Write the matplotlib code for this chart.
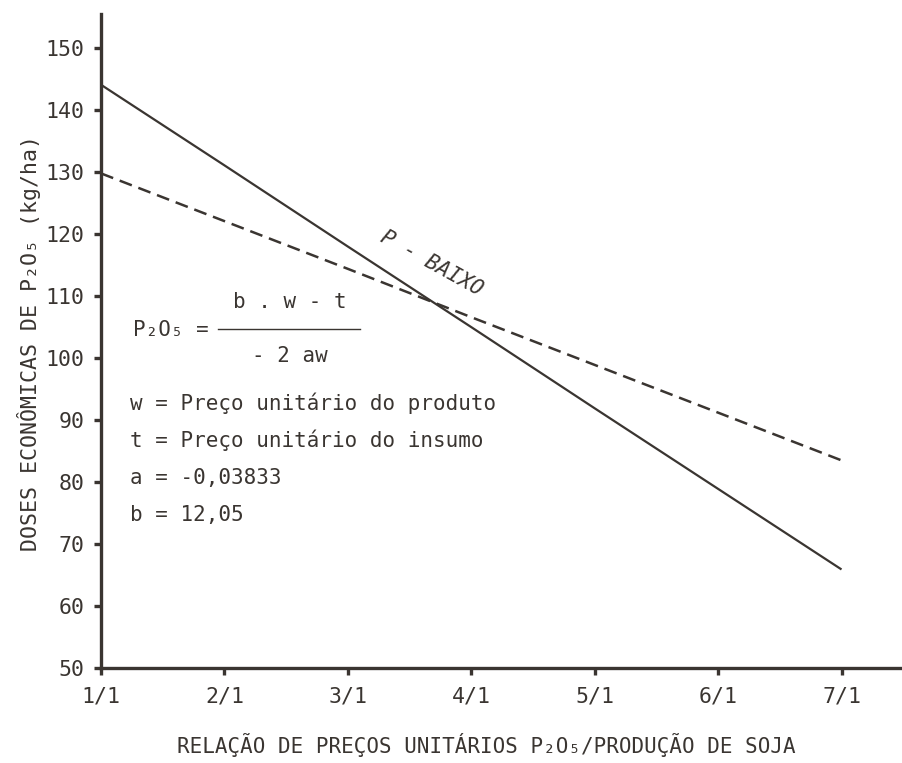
import matplotlib
matplotlib.use("Agg")
import matplotlib.pyplot as plt
from matplotlib.lines import Line2D

# Price ratio (P2O5 / soybean) and economic doses of P2O5 (kg/ha)
ratios = [1, 2, 3, 4, 5, 6, 7]
ratio_labels = ["1/1", "2/1", "3/1", "4/1", "5/1", "6/1", "7/1"]
dose_p_baixo = [144.1, 131.1, 118.0, 105.0, 91.9, 78.9, 65.9]
dose_dashed = [129.8, 122.1, 114.4, 106.6, 98.9, 91.2, 83.5]
y_ticks = [50, 60, 70, 80, 90, 100, 110, 120, 130, 140, 150]

ink = "#3a3531"
font = dict(family="DejaVu Sans Mono", color=ink)

fig = plt.figure(figsize=(9.02, 7.63), dpi=100)
ax = fig.add_axes([0.112, 0.1245, 0.888, 0.857])

ax.plot(ratios, dose_p_baixo, color=ink, lw=1.6, solid_capstyle="butt")
ax.plot(ratios, dose_dashed, color=ink, lw=1.8, dashes=(5.2, 2.8))

ax.set_xlim(1, 7.49)
ax.set_ylim(50, 155.5)

for side in ("top", "right"):
    ax.spines[side].set_visible(False)
for side in ("left", "bottom"):
    ax.spines[side].set_linewidth(2.4)
    ax.spines[side].set_color(ink)

ax.set_xticks(ratios)
ax.set_xticklabels(ratio_labels, fontsize=15.5, **font)
ax.set_yticks(y_ticks)
ax.set_yticklabels([str(v) for v in y_ticks], fontsize=15.5, **font)
ax.tick_params(axis="x", length=5, width=2.4, color=ink, pad=8)
ax.tick_params(axis="y", length=5, width=2.4, color=ink, pad=7)

ax.set_xlabel("RELAÇÃO DE PREÇOS UNITÁRIOS P₂O₅/PRODUÇÃO DE SOJA",
              fontsize=15, va="center", **font)
ax.xaxis.set_label_coords(0.481, -0.118)
ax.set_ylabel("DOSES ECONÔMICAS DE P₂O₅ (kg/ha)",
              fontsize=15.5, va="center", **font)
ax.yaxis.set_label_coords(-0.09, 0.497)

# Curve label
ax.text(3.68, 115.3, "P - BAIXO", rotation=-29, ha="center", va="center",
        fontsize=15, style="italic", **font)

# Economic dose formula
ax.text(0.04, 0.517, "P₂O₅ =", transform=ax.transAxes, ha="left",
        va="center", fontsize=15, **font)
ax.text(0.236, 0.559, "b . w - t", transform=ax.transAxes, ha="center",
        va="center", fontsize=15, **font)
ax.text(0.236, 0.477, "- 2 aw", transform=ax.transAxes, ha="center",
        va="center", fontsize=15, **font)
ax.add_line(Line2D([0.146, 0.323], [0.519, 0.519], transform=ax.transAxes,
                   color=ink, lw=1.0))

legend_lines = [
    "w = Preço unitário do produto",
    "t = Preço unitário do insumo",
    "a = -0,03833",
    "b = 12,05",
]
for i, line in enumerate(legend_lines):
    ax.text(0.036, 0.405 - i * 0.057, line, transform=ax.transAxes,
            ha="left", va="center", fontsize=15, **font)

fig.savefig("out.png", dpi=100, facecolor="white")
